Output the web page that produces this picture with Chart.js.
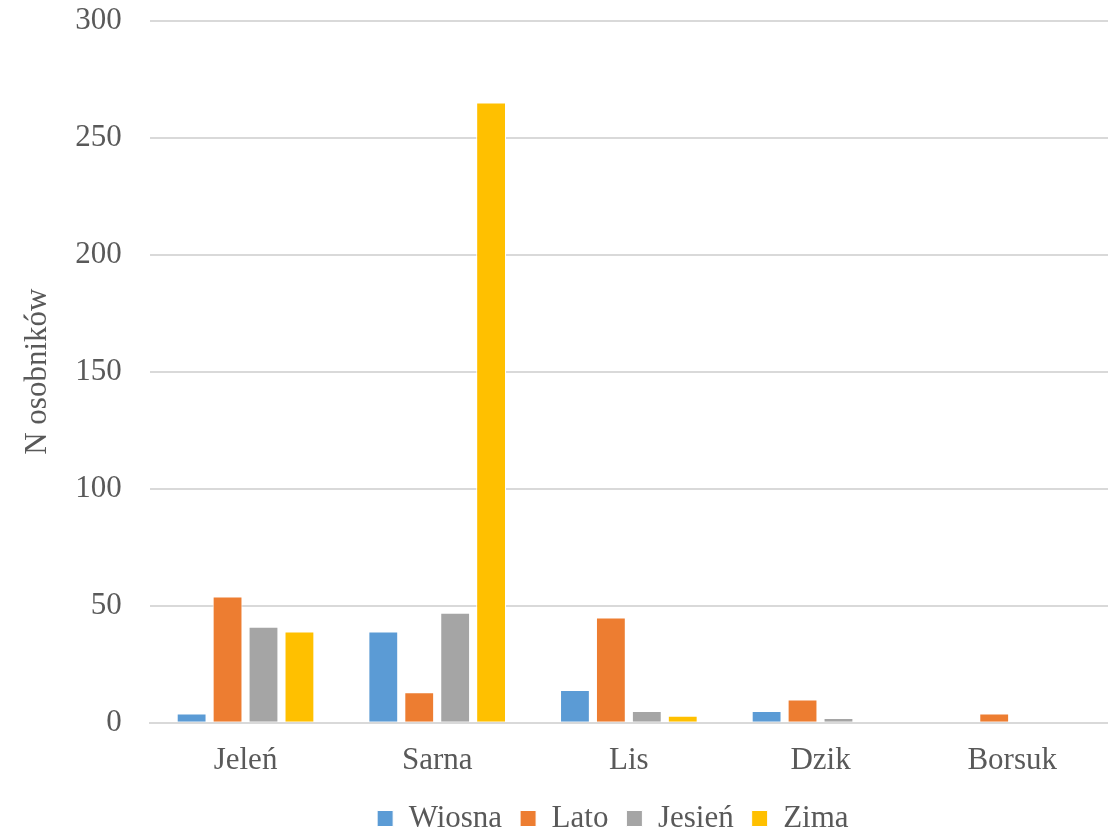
<!DOCTYPE html>
<html>
<head>
<meta charset="utf-8">
<script src="https://cdn.jsdelivr.net/npm/chart.js@4"></script>
<style>
  html, body { margin: 0; padding: 0; background: #fff; }
  #outer { width: 1108px; height: 832px; overflow: hidden; }
  #wrap { width: 1108px; height: 858px; margin-top: -26px; }
</style>
</head>
<body>
<div id="outer"><div id="wrap"><canvas id="c"></canvas></div></div>
<script>
// data
const species = ["Jeleń", "Sarna", "Lis", "Dzik", "Borsuk"];
const wiosna = [4, 39, 14, 5, 0];
const lato   = [54, 13, 45, 10, 4];
const jesien = [41, 47, 5, 2, 0];
const zima   = [39, 265, 3, 0, 0];
const yTicks = [0, 50, 100, 150, 200, 250, 300];

const FONT = "'Liberation Serif', 'Times New Roman', serif";
const TXT  = "#595959";

function ds(label, data, color) {
  return {
    label, data,
    backgroundColor: color,
    borderColor: "#ffffff",
    borderWidth: 1,
    categoryPercentage: 0.75,
    barPercentage: 0.83
  };
}

// nudge the legend to where Excel put it
const shiftLegend = {
  id: "shiftLegend",
  afterLayout(chart) {
    const lg = chart.legend;
    const dx = (chart.chartArea.left + chart.chartArea.right) / 2 - (lg.left + lg.right) / 2 - 16;
    lg.left += dx; lg.right += dx;
    lg.top -= 5; lg.bottom -= 5;
  }
};

new Chart(document.getElementById("c"), {
  type: "bar",
  data: {
    labels: species,
    datasets: [
      ds("Wiosna", wiosna, "#5b9bd5"),
      ds("Lato",   lato,   "#ed7d31"),
      ds("Jesień", jesien, "#a5a5a5"),
      ds("Zima",   zima,   "#ffc000")
    ]
  },
  plugins: [shiftLegend],
  options: {
    responsive: true, maintainAspectRatio: false,
    animation: false,
    layout: { padding: { top: 0, right: 0, left: 0, bottom: -17 } },
    plugins: {
      tooltip: { enabled: false },
      legend: {
        position: "bottom",
        labels: {
          font: { family: FONT, size: 31 },
          color: TXT,
          boxWidth: 16, boxHeight: 16,
          padding: 18
        }
      }
    },
    scales: {
      x: {
        grid: { display: false },
        border: { color: "#d9d9d9", width: 2 },
        ticks: { font: { family: FONT, size: 31 }, color: TXT, padding: 11 }
      },
      y: {
        min: 0, max: 300,
        afterBuildTicks: (ax) => { ax.ticks = yTicks.map(v => ({ value: v })); },
        grid: { color: "#d9d9d9", lineWidth: 2, drawTicks: false },
        border: { display: false },
        ticks: { font: { family: FONT, size: 31 }, color: TXT, padding: 28 },
        title: {
          display: true, text: "N osobników",
          font: { family: FONT, size: 31 }, color: TXT, padding: { top: 19, bottom: -9 }
        }
      }
    }
  }
});
</script>
</body>
</html>
